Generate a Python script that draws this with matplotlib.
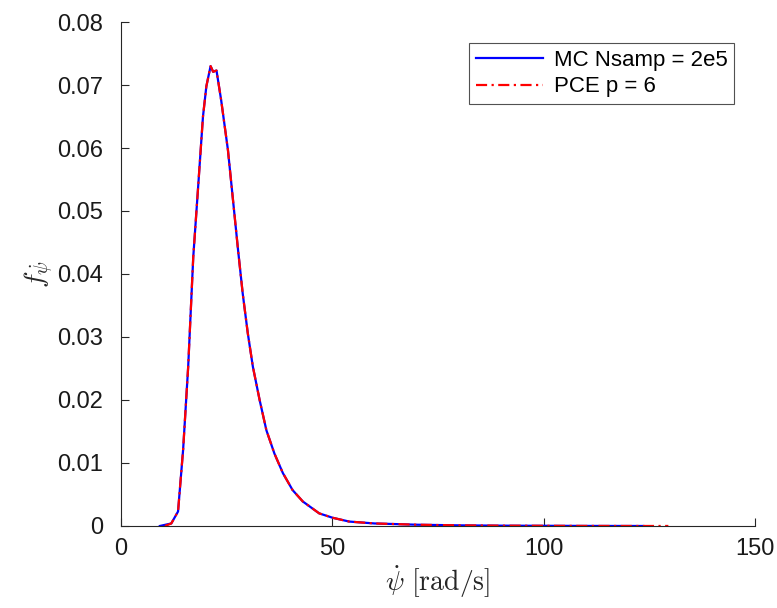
import matplotlib
matplotlib.use("Agg")
import matplotlib.pyplot as plt

plt.rcParams['font.family'] = ['Liberation Sans', 'DejaVu Sans']
plt.rcParams['mathtext.fontset'] = 'cm'

# MC reference pdf (Nsamp = 2e5)
mc_x = [9.2, 11.9, 13.5, 14.7, 15.9, 17.1, 18.2, 19.4, 20.2, 21.2, 21.8, 22.6,
        23.7, 25.3, 26.9, 27.7, 28.8, 30.0, 31.2, 32.8, 34.4, 36.3, 38.3, 40.6,
        43.0, 46.9, 50.1, 54.0, 60.0, 70.0, 80.0, 90.0, 100.0, 110.0, 123.6]
mc_y = [0.0, 0.0004, 0.0023, 0.0121, 0.0253, 0.0427, 0.0533, 0.0650, 0.0698,
        0.0730, 0.0721, 0.0723, 0.0676, 0.0597, 0.0491, 0.0438, 0.0369, 0.0306,
        0.0253, 0.0200, 0.0152, 0.0115, 0.0084, 0.0057, 0.0039, 0.0020, 0.0013,
        0.0007, 0.0004, 0.0002, 0.0001, 0.00005, 0.00003, 0.00001, 0.0]

# PCE surrogate pdf (p = 6)
pce_x = [10.4, 11.9, 13.5, 14.7, 15.9, 17.1, 18.2, 19.4, 20.2, 21.2, 21.8, 22.6,
         23.7, 25.3, 26.9, 27.7, 28.8, 30.0, 31.2, 32.8, 34.4, 36.3, 38.3, 40.6,
         43.0, 46.9, 50.1, 54.0, 60.0, 70.0, 80.0, 90.0, 100.0, 110.0, 120.0, 129.5]
pce_y = [0.0, 0.0004, 0.0023, 0.0121, 0.0253, 0.0427, 0.0533, 0.0650, 0.0698,
         0.0730, 0.0721, 0.0723, 0.0676, 0.0597, 0.0491, 0.0438, 0.0369, 0.0306,
         0.0253, 0.0200, 0.0152, 0.0115, 0.0084, 0.0057, 0.0039, 0.0020, 0.0013,
         0.0007, 0.0004, 0.0002, 0.0001, 0.00005, 0.00003, 0.00001, 0.0, 0.0]

fig = plt.figure(figsize=(7.77, 6.08), dpi=100)
ax = fig.add_axes([0.1557, 0.1349, 0.816, 0.8289])

ax.plot(mc_x, mc_y, color='blue', linewidth=1.6, label='MC Nsamp = 2e5')
ax.plot(pce_x, pce_y, color='red', linewidth=1.6, linestyle=(0, (5, 2, 1, 2)),
        label='PCE p = 6')

ax.set_xlim(0, 150)
ax.set_ylim(0, 0.08)
ax.set_xticks([0, 50, 100, 150])
ax.set_yticks([0, 0.01, 0.02, 0.03, 0.04, 0.05, 0.06, 0.07, 0.08])
ax.set_yticklabels(['0', '0.01', '0.02', '0.03', '0.04', '0.05', '0.06', '0.07', '0.08'])

for side in ['top', 'right']:
    ax.spines[side].set_visible(False)
for side in ['left', 'bottom']:
    ax.spines[side].set_color('#262626')
    ax.spines[side].set_linewidth(0.8)
ax.tick_params(direction='in', length=6, width=0.8, colors='#262626',
               labelsize=17, labelcolor='#1a1a1a')
ax.tick_params(axis='x', pad=9)
ax.tick_params(axis='y', pad=13)

ax.set_xlabel(r'$\dot{\psi}\ \mathrm{[rad/s]}$', fontsize=20, color='#262626', labelpad=2)
ax.set_ylabel(r'$f_{\dot{\psi}}$', fontsize=20, color='#262626', labelpad=1)

leg = ax.legend(loc='upper right', bbox_to_anchor=(0.967, 0.958), borderaxespad=0,
                fontsize=16, frameon=True, fancybox=False, edgecolor='#262626',
                handlelength=3.0, handletextpad=0.5, borderpad=0.3, labelspacing=0.25)
leg.get_frame().set_linewidth(0.8)

fig.savefig('out.png', dpi=100)
